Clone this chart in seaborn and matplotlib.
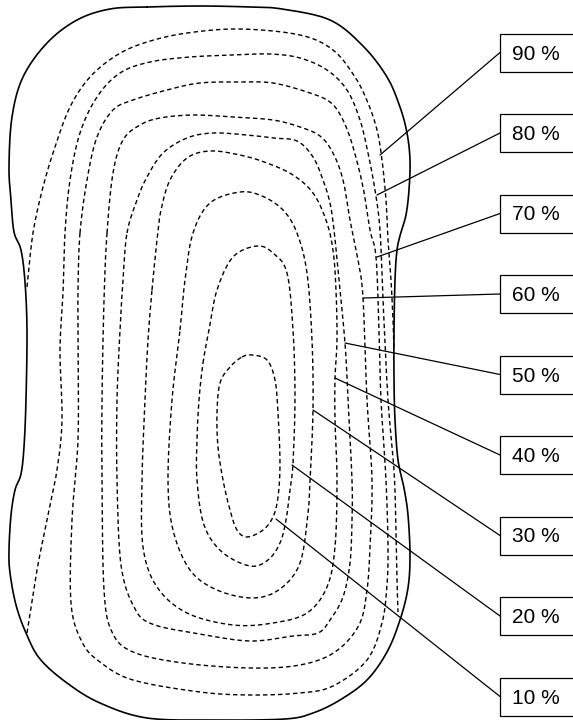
import numpy as np
import pandas as pd
import matplotlib
matplotlib.use("Agg")
import matplotlib.pyplot as plt
from matplotlib.patches import Rectangle
import seaborn as sns

# ---- data -----------------------------------------------------------------
levels = [10, 20, 30, 40, 50, 60, 70, 80, 90]
labels = [f"{v} %" for v in levels]

# outline of the region (pixel space, y grows downward)
outline = [(147, 7), (200, 6), (250, 7), (282, 9), (330, 20), (363, 46), (387, 77),
           (400, 107), (407, 133), (410, 160), (409, 190), (406, 215), (401, 232),
           (397, 250), (395, 280), (394, 330), (394, 380), (395, 420), (398, 460),
           (404, 488), (408, 515), (410, 555), (408, 588), (400, 620), (387, 652),
           (367, 680), (340, 700), (313, 713), (285, 719), (215, 720), (147, 718),
           (100, 703), (67, 683), (40, 659), (26, 633), (16, 605), (10, 573),
           (9, 550), (11, 515), (15, 490), (21, 474), (24, 447), (26, 400),
           (27, 330), (25, 282), (21, 250), (14, 232), (11, 200), (9, 167),
           (12, 117), (23, 77), (47, 43), (77, 20), (110, 9)]

iso_10 = [(242, 357), (252, 355), (267, 360), (275, 380), (278, 413), (280, 463),
          (278, 497), (273, 517), (263, 530), (247, 537), (237, 530), (230, 510),
          (223, 480), (218, 447), (217, 413), (220, 383), (230, 367)]
iso_20 = [(203, 363), (209, 330), (217, 290), (233, 257), (257, 246), (273, 253),
          (287, 273), (293, 330), (295, 397), (293, 463), (290, 490), (286, 520),
          (280, 543), (268, 560), (250, 566), (222, 552), (204, 525), (197, 480),
          (197, 440), (199, 400)]
iso_30 = [(180, 330), (185, 280), (193, 233), (210, 203), (240, 192), (262, 196),
          (283, 210), (297, 233), (307, 273), (312, 340), (313, 410), (310, 480),
          (308, 513), (300, 563), (280, 589), (253, 598), (217, 590), (190, 570),
          (173, 530), (168, 480), (172, 400)]
iso_40 = [(152, 290), (157, 240), (161, 210), (170, 180), (187, 158), (210, 151),
          (240, 155), (267, 163), (293, 175), (313, 193), (326, 220), (333, 250),
          (336, 290), (337, 340), (335, 378), (335, 420), (337, 480), (335, 547),
          (327, 587), (307, 613), (273, 623), (233, 625), (187, 613), (157, 587),
          (143, 547), (142, 480), (145, 400), (148, 340)]
iso_50 = [(127, 233), (137, 200), (147, 177), (163, 153), (187, 138), (213, 133),
          (247, 135), (273, 138), (297, 141), (313, 157), (323, 180), (330, 203),
          (334, 230), (338, 270), (345, 343), (348, 400), (352, 480), (352, 520),
          (350, 563), (343, 597), (330, 620), (318, 633), (293, 636), (250, 641),
          (200, 634), (152, 624), (134, 607), (121, 565), (117, 480), (117, 400),
          (120, 330), (123, 280)]
iso_60 = [(107, 233), (113, 173), (123, 140), (140, 125), (160, 118), (193, 115),
          (233, 117), (273, 120), (300, 127), (320, 136), (333, 153), (343, 180),
          (350, 220), (358, 260), (363, 298), (367, 400), (372, 480), (370, 547),
          (367, 590), (359, 625), (335, 652), (300, 665), (250, 668), (183, 663),
          (133, 652), (112, 632), (104, 590), (102, 480), (102, 400), (104, 300)]
iso_70 = [(80, 233), (87, 180), (97, 137), (113, 110), (133, 100), (167, 90),
          (200, 83), (240, 82), (273, 83), (307, 92), (330, 102), (343, 120),
          (353, 147), (363, 187), (370, 230), (376, 257), (379, 330), (381, 400),
          (386, 480), (388, 547), (387, 585), (382, 623), (367, 660), (333, 686),
          (300, 693), (250, 695), (200, 692), (133, 680), (100, 662), (82, 642),
          (71, 603), (72, 520), (78, 440), (78, 350), (78, 290)]
# the two outer levels leave the region and are open curves
iso_80 = [(27, 633), (37, 570), (47, 520), (57, 470), (62, 420), (60, 350), (63, 293),
          (65, 233), (70, 180), (80, 133), (97, 97), (120, 73), (150, 62), (190, 57),
          (233, 55), (270, 54), (300, 58), (327, 70), (347, 90), (360, 120),
          (368, 153), (375, 190), (380, 230), (383, 300), (388, 400), (394, 470),
          (396, 530), (397, 580), (398, 612)]
iso_90 = [(27, 287), (33, 233), (43, 187), (55, 147), (70, 107), (90, 77), (117, 55),
          (147, 42), (187, 33), (240, 29), (300, 35), (333, 50), (355, 77),
          (368, 103), (377, 130), (382, 160), (386, 200), (388, 240), (391, 280),
          (393, 320), (394, 350)]

isolines = [iso_10, iso_20, iso_30, iso_40, iso_50, iso_60, iso_70, iso_80, iso_90]
closed_flags = [True, True, True, True, True, True, True, False, False]

# point on each isoline where its callout is attached
anchor_x = [276, 292, 313, 335, 345, 363, 377, 377, 380]
anchor_y = [519, 465, 410, 378, 343, 298, 257, 195, 155]


def catmull_rom(points, closed, n=14):
    """Smooth curve through the given vertices."""
    P = np.asarray(points, float)
    if closed:
        P = np.vstack([P[-1], P, P[0], P[1]])
    else:
        P = np.vstack([2 * P[0] - P[1], P, 2 * P[-1] - P[-2]])
    t = np.linspace(0, 1, n, endpoint=False)[:, None]
    segs = []
    for i in range(1, len(P) - 2):
        p0, p1, p2, p3 = P[i - 1], P[i], P[i + 1], P[i + 2]
        segs.append(0.5 * (2 * p1 + (-p0 + p2) * t
                           + (2 * p0 - 5 * p1 + 4 * p2 - p3) * t ** 2
                           + (-p0 + 3 * p1 - 3 * p2 + p3) * t ** 3))
    segs.append(P[-2][None])
    return np.vstack(segs)


# ---- figure ---------------------------------------------------------------
sns.set_theme(style="white")
plt.rcParams["font.family"] = ["Liberation Sans", "DejaVu Sans"]

fig = plt.figure(figsize=(5.73, 7.2), dpi=100)
ax = fig.add_axes([0, 0, 1, 1])
ax.set_xlim(0, 573)
ax.set_ylim(720, 0)
ax.axis("off")

# region outline
pts = catmull_rom(outline, True)
df = pd.DataFrame({"x": pts[:, 0], "y": pts[:, 1]})
sns.lineplot(data=df, x="x", y="y", sort=False, estimator=None, ax=ax,
             color="black", linewidth=1.2)

# dashed isolines
for iso, closed in zip(isolines, closed_flags):
    pts = catmull_rom(iso, closed)
    df = pd.DataFrame({"x": pts[:, 0], "y": pts[:, 1]})
    sns.lineplot(data=df, x="x", y="y", sort=False, estimator=None, ax=ax,
                 color="black", linewidth=1.0, linestyle=(0, (3.2, 2.2)))

# callout boxes with leader lines
box_left, box_w, box_h = 500, 80, 38
first_center, step = 52.5, 80.5
for i, (lab, ax_x, ax_y) in enumerate(zip(labels, anchor_x, anchor_y)):
    cy = first_center + step * (len(levels) - 1 - i)
    lead = pd.DataFrame({"x": [ax_x, box_left], "y": [ax_y, cy]})
    sns.lineplot(data=lead, x="x", y="y", sort=False, estimator=None, ax=ax,
                 color="black", linewidth=0.9)
    ax.add_patch(Rectangle((box_left, cy - box_h / 2), box_w, box_h,
                           facecolor="white", edgecolor="black", linewidth=0.9,
                           clip_on=False))
    ax.text(box_left + 12, cy + 1.5, lab, ha="left", va="center",
            fontsize=15, color="black")

ax.set_xlabel("")
ax.set_ylabel("")
fig.savefig("out.png", dpi=100, facecolor="white")
